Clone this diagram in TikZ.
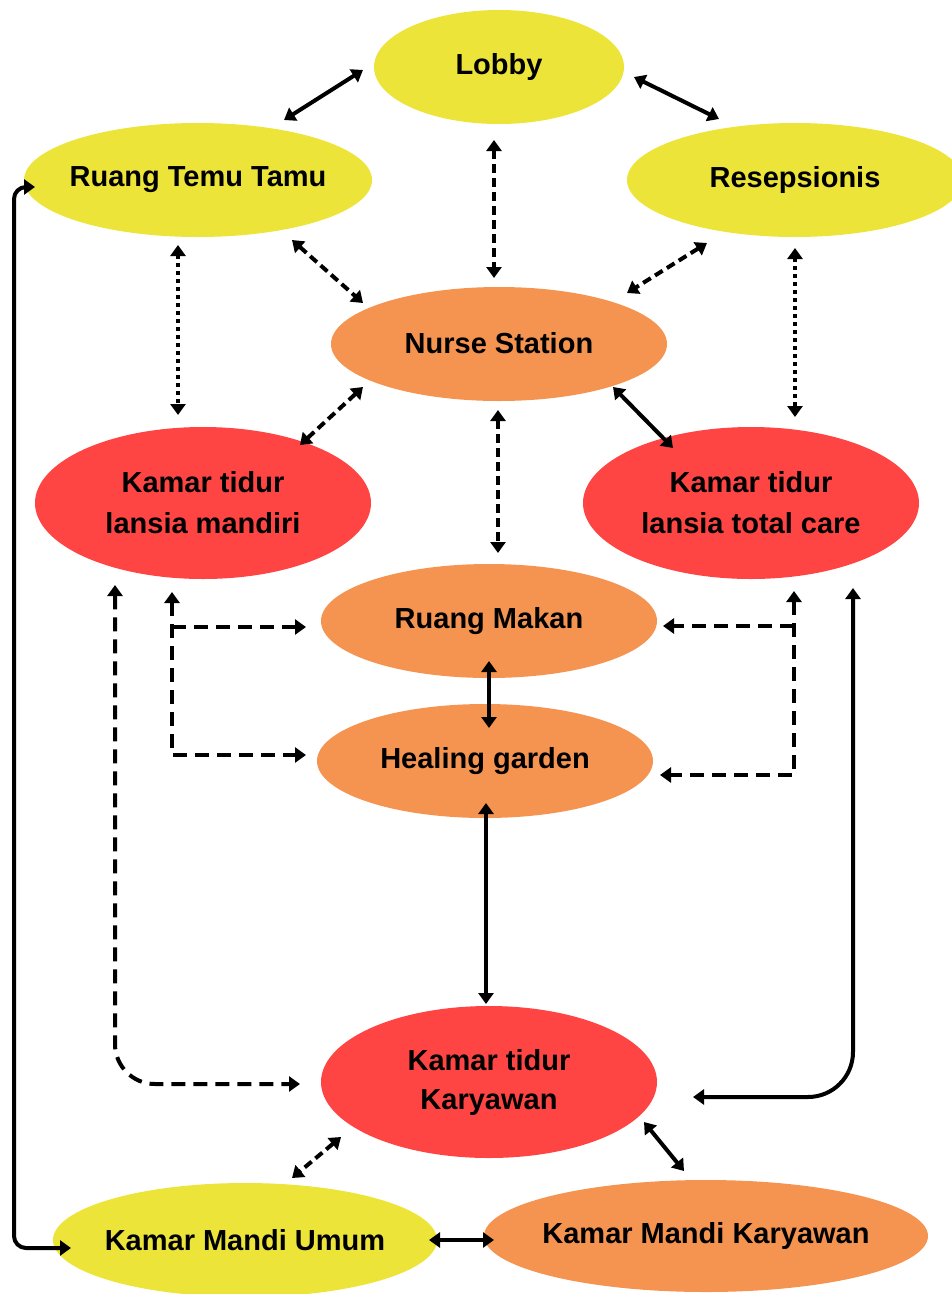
\documentclass[tikz,border=0pt]{standalone}
\usepackage{fontspec}
\setmainfont{Liberation Sans}
\usetikzlibrary{shapes.geometric,arrows.meta,calc}
\definecolor{ylw}{RGB}{237,228,58}
\definecolor{org}{RGB}{245,148,81}
\definecolor{rd}{RGB}{255,68,68}
\tikzset{
  room/.style={ellipse, inner xsep=-40pt, inner ysep=0pt, align=center,
    font=\bfseries\fontsize{29}{39}\selectfont, text=black},
  small/.style={room, minimum width=#1, minimum height=114pt},
  big/.style={room, minimum width=#1, minimum height=152pt},
  link/.style={line width=4pt, line cap=butt, line join=round,
    {Triangle[length=11pt,width=15pt]}-{Triangle[length=11pt,width=15pt]}},
  tolink/.style={line width=4pt, line cap=butt, line join=round,
    -{Triangle[length=11pt,width=15pt]}},
  shortdash/.style={dash pattern=on 9pt off 5pt},
  longdash/.style={dash pattern=on 14pt off 8pt},
  dots/.style={dash pattern=on 4pt off 4pt},
}
\begin{document}
\begin{tikzpicture}[x=1pt,y=-1pt]
\useasboundingbox (0,0) rectangle (952,1294);
\clip (0,0) rectangle (952,1294);

% rooms
\node[small=250pt, fill=ylw] (lobby) at (499,67) {Lobby};
\node[small=348pt, fill=ylw] (rtt) at (198,180) {\raisebox{1pt}{Ruang Temu Tamu}};
\node[small=336pt, fill=ylw] (res) at (795,180) {Resepsionis};
\node[small=336pt, fill=org] (ns) at (499,344) {\raisebox{2pt}{Nurse Station}};
\node[big=336pt, fill=rd] (km) at (203,503) {\raisebox{2pt}{Kamar tidur}\\lansia mandiri};
\node[big=336pt, fill=rd] (kt) at (751,503) {\raisebox{2pt}{Kamar tidur}\\lansia total care};
\node[small=336pt, fill=org] (rm) at (489,621) {Ruang Makan};
\node[small=336pt, fill=org] (hg) at (485,761) {Healing garden};
\node[big=336pt, fill=rd] (kk) at (489,1082) {Kamar tidur\\Karyawan};
\node[small=384pt, fill=ylw] (kmu) at (245,1240) {Kamar Mandi Umum};
\node[small=444pt, minimum height=112pt, fill=org] (kmk) at (706,1236) {Kamar Mandi Karyawan};

\coordinate (leftrail) at (14,700);

% upper links
\draw[link] ($(lobby)+(-136,3)$) -- ($(rtt)+(86,-60)$);
\draw[link] ($(lobby)+(135,10)$) -- ($(res)+(-76,-61)$);
\draw[link, shortdash] ($(lobby)+(-5,73)$) -- ($(ns)+(-5,-66)$);
\draw[link, shortdash] ($(rtt)+(94,60)$) -- ($(ns)+(-136,-41)$);
\draw[link, shortdash] ($(res)+(-88,63)$) -- ($(ns)+(128,-51)$);
\draw[link, dots] ($(rtt)+(-20,65)$) -- ($(km)+(-25,-88)$);
\draw[link, dots] ($(res)+(0,68)$) -- ($(kt)+(44,-86)$);
\draw[link, shortdash] ($(ns)+(-136,43)$) -- ($(km)+(97,-58)$);
\draw[link] ($(ns)+(114,43)$) -- ($(kt)+(-78,-55)$);
\draw[link, shortdash] ($(ns)+(-1,66)$) -- ($(rm)+(9,-68)$);

% bedrooms to dining room and garden
\draw[link, longdash] ($(km)+(-31,89)$) |- ($(hg)+(-179,-6)$);
\draw[tolink, longdash] ($(km)+(-31,124)$) -- ($(rm)+(-183,6)$);
\draw[link, longdash] ($(kt)+(43,88)$) |- ($(hg)+(175,14)$);
\draw[tolink, longdash] ($(kt)+(43,123)$) -- ($(rm)+(174,5)$);

% central spine
\draw[link] ($(rm)+(0,40)$) -- ($(hg)+(4,-33)$);
\draw[link] ($(hg)+(1,42)$) -- ($(kk)+(-3,-78)$);

% bedrooms to staff quarters
\draw[link, longdash, rounded corners=40pt] ($(km)+(-88,82)$) |- ($(kk)+(-189,2)$);
\draw[link, rounded corners=45pt] ($(kt)+(102,85)$) |- ($(kk)+(204,15)$);

% bathrooms
\draw[link, shortdash] ($(kk)+(-148,55)$) -- ($(kmu)+(47,-62)$);
\draw[link] ($(kk)+(155,40)$) -- ($(kmk)+(-22,-65)$);
\draw[link] ($(kmu)+(184,0)$) -- ($(kmk)+(-212,4)$);
\draw[link, rounded corners=12pt] ($(rtt)+(-163,7)$) -| (leftrail) |- ($(kmu)+(-174,8)$);
\end{tikzpicture}
\end{document}
